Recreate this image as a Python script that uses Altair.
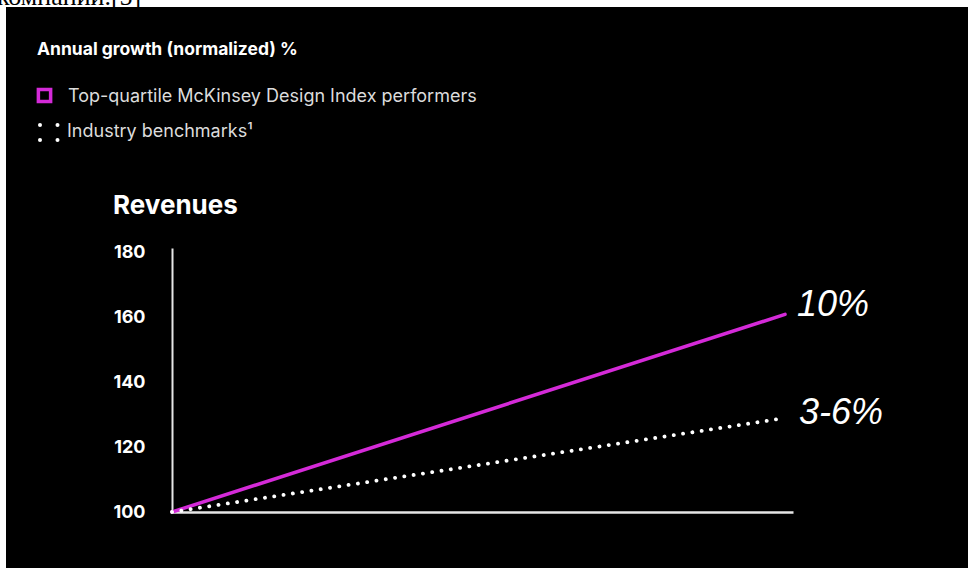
import altair as alt
import pandas as pd

# ---- data ----
years = [0, 5]
top_quartile = [100, 161]
benchmarks = [100, 129]
y_ticks = [100, 120, 140, 160, 180]
series_names = ["Top-quartile McKinsey Design Index performers", "Industry benchmarks¹"]
end_labels = ["10%", "3-6%"]
header = "Annual growth (normalized) %"
panel_title = "Revenues"
caption_cut = "компании.[5]"

MAGENTA = "#d42ad8"
WHITE = "#ffffff"
FONT = "Inter"
HAND = "Liberation Sans"

df = pd.DataFrame({
    "year": years * 2,
    "value": top_quartile + benchmarks,
    "series": [series_names[0]] * len(years) + [series_names[1]] * len(years),
})
ends = pd.DataFrame({
    "year": [years[-1], years[-1]],
    "value": [top_quartile[-1], benchmarks[-1]],
    "label": end_labels,
    "series": series_names,
})

W, H = 621, 264
PL, PT = 172, 248

x_enc = alt.X("year:Q", scale=alt.Scale(domain=[0, 5.065], nice=False),
              axis=alt.Axis(labels=False, ticks=False, grid=False, title=None,
                            domainColor="#e6e6e6", domainWidth=2.5))
y_enc = alt.Y("value:Q", scale=alt.Scale(domain=[100, 181.5], nice=False, zero=False),
              axis=alt.Axis(values=y_ticks, ticks=False, grid=False, title=None,
                            domainColor="#e6e6e6", domainWidth=2,
                            labelColor=WHITE, labelFont=FONT, labelFontWeight="bold",
                            labelFontSize=18, labelPadding=27))

base = alt.Chart(df)

top_line = base.transform_filter(alt.datum.series == series_names[0]).mark_line(
    color=MAGENTA, strokeWidth=3.5, strokeCap="round").encode(x=x_enc, y=y_enc)

bench_line = base.transform_filter(alt.datum.series == series_names[1]).mark_line(
    color=WHITE, strokeWidth=3.8, strokeCap="round", strokeDash=[0.1, 9.3]).encode(
    x="year:Q", y="value:Q")

lbl_top = alt.Chart(ends).transform_filter(alt.datum.label == end_labels[0]).mark_text(
    align="left", baseline="middle", dx=12, dy=-9, fontSize=36, fontStyle="italic",
    font=HAND, color=WHITE).encode(x="year:Q", y="value:Q", text="label:N")
lbl_bench = alt.Chart(ends).transform_filter(alt.datum.label == end_labels[1]).mark_text(
    align="left", baseline="middle", dx=14, dy=-5, fontSize=36, fontStyle="italic",
    font=HAND, color=WHITE).encode(x="year:Q", y="value:Q", text="label:N")

one = pd.DataFrame({"k": [0]})

def txt(s, px, py, size, weight="normal", color=WHITE, font=FONT, align="left", baseline="middle"):
    return alt.Chart(one).mark_text(
        text=s, align=align, baseline=baseline, fontSize=size, fontWeight=weight,
        color=color, font=font).encode(x=alt.value(px - PL), y=alt.value(py - PT))

# screenshot edge: white strip at top and left with cut-off caption
strip_top = alt.Chart(one).mark_rect(color=WHITE).encode(
    x=alt.value(-PL), x2=alt.value(968 - PL), y=alt.value(-PT), y2=alt.value(7 - PT))
strip_left = alt.Chart(one).mark_rect(color=WHITE).encode(
    x=alt.value(-PL), x2=alt.value(6 - PL), y=alt.value(-PT), y2=alt.value(568 - PT))
caption = txt(caption_cut, -3, 5, 26, color="#000000", font="Liberation Serif", baseline="alphabetic")

head = txt(header, 37, 50, 17.5, weight="bold")
title = txt(panel_title, 113, 206, 26, weight="bold")
leg1_text = txt(series_names[0], 68, 97, 18, color="#dcdcdc")
leg2_text = txt(series_names[1], 67, 132, 18, color="#dcdcdc")

leg1_sym = alt.Chart(one).mark_point(shape="square", filled=False, size=150, strokeWidth=3.5,
                                     color=MAGENTA, opacity=1).encode(
    x=alt.value(44.5 - PL), y=alt.value(95.5 - PT))
dots = []
for (dx_, dy_) in [(40, 125), (57.5, 125), (40, 140), (57.5, 140)]:
    dots.append(alt.Chart(one).mark_circle(size=16, color=WHITE, opacity=1).encode(
        x=alt.value(dx_ - PL), y=alt.value(dy_ - PT)))

chart = alt.layer(
    top_line, bench_line, lbl_top, lbl_bench,
    strip_top, strip_left, caption, head, title, leg1_text, leg2_text, leg1_sym, *dots
).properties(
    width=W, height=H,
    padding={"left": PL, "top": PT, "right": 968 - PL - W, "bottom": 568 - PT - H},
    autosize="none",
    background="#000000",
).configure_view(stroke=None)

chart.save("out.html", embed_options={"renderer": "svg", "actions": False})
